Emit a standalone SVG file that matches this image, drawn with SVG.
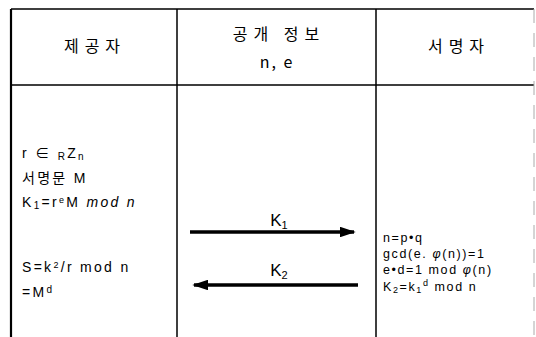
<svg xmlns="http://www.w3.org/2000/svg" width="536" height="337" viewBox="0 0 536 337">
<style>
.ln{stroke:#000;stroke-width:1.5;fill:none}
.hd{font-family:"Noto Sans CJK KR","Liberation Sans",sans-serif;font-size:16px;letter-spacing:6px;text-anchor:middle;fill:#000}
.tx{font-family:"Liberation Sans","Noto Sans CJK KR",sans-serif;font-size:14px;letter-spacing:2.3px;fill:#000}
.sm{font-family:"Liberation Sans","Noto Sans CJK KR",sans-serif;font-size:12.5px;letter-spacing:1.6px;fill:#000}
.lb{font-family:"Liberation Sans",sans-serif;font-size:17px;fill:#000;text-anchor:middle}
.ar{stroke:#000;stroke-width:3.5;fill:none}
</style>
<defs>
<marker id="ah" markerWidth="4.5" markerHeight="3" refX="4" refY="1.5" orient="auto" markerUnits="strokeWidth">
<path d="M0,0 L4.5,1.5 L0,3 Z" fill="#000"/>
</marker>
</defs>
<g id="table">
<path class="ln" d="M11,9 H534 M11,9 V337 M177,9 V337 M376,9 V337 M11,85 H534"/>
<path d="M11,9 V337" stroke="#000" stroke-width="2.2" fill="none"/>
<path d="M534,9 V337" stroke="#aaa" stroke-width="1" stroke-dasharray="14,10" fill="none"/>
</g>
<g id="provider">
<text class="hd" x="95" y="52">제공자</text>
<text class="tx" x="22" y="158">r ∈ <tspan font-size="10" dy="2">R</tspan><tspan dy="-2">Z</tspan><tspan font-size="10" dy="2">n</tspan></text>
<text class="tx" x="22" y="183">서명문 M</text>
<text class="tx" x="22" y="207">K<tspan font-size="10" dy="2">1</tspan><tspan dy="-2">=r</tspan><tspan font-size="9" dy="-4">e</tspan><tspan dy="4">M </tspan><tspan font-style="italic">mod n</tspan></text>
<text class="tx" x="22" y="272">S=k<tspan font-size="9" dy="-4">2</tspan><tspan dy="4">/r mod n</tspan></text>
<text class="tx" x="22" y="297">=M<tspan font-size="10" dy="-4">d</tspan></text>
</g>
<g id="public">
<text class="hd" x="279" y="40">공개 정보</text>
<text class="hd" x="277" y="68" style="letter-spacing:2px">n, e</text>
</g>
<g id="signer">
<text class="hd" x="459" y="52">서명자</text>
<text class="sm" x="383" y="242">n=p•q</text>
<text class="sm" x="383" y="258">gcd(e. <tspan font-style="italic">φ</tspan>(n))=1</text>
<text class="sm" x="383" y="274">e•d=1 mod <tspan font-style="italic">φ</tspan>(n)</text>
<text class="sm" x="383" y="291">K<tspan font-size="9" dy="2">2</tspan><tspan dy="-2">=k</tspan><tspan font-size="9" dy="2">1</tspan><tspan font-size="9" dy="-7">d</tspan><tspan dy="5"> mod n</tspan></text>
</g>
<g id="connectors">
<line class="ar" x1="190" y1="232" x2="354" y2="232" marker-end="url(#ah)"/>
<line class="ar" x1="358" y1="285" x2="194" y2="285" marker-end="url(#ah)"/>
<text class="lb" x="279" y="226">K<tspan font-size="11" dy="3">1</tspan></text>
<text class="lb" x="279" y="276">K<tspan font-size="11" dy="3">2</tspan></text>
</g>
</svg>
